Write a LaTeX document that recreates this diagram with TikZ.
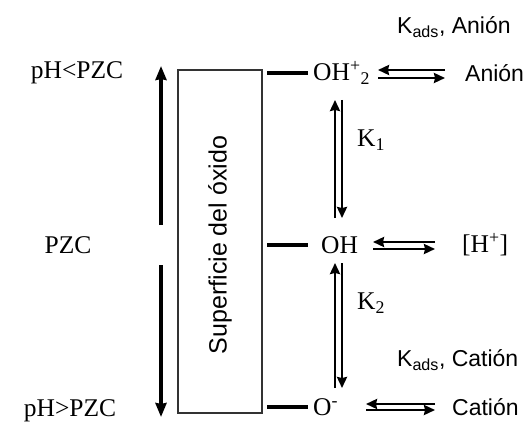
\documentclass[tikz,border=0pt]{standalone}
\usepackage{fontspec}
\setmainfont{Liberation Serif}
\setsansfont{Liberation Sans}
\usetikzlibrary{arrows.meta}
\begin{document}
\begin{tikzpicture}[x=1pt,y=-1pt,
  serif/.style={font=\fontsize{25.5}{27}\selectfont, inner sep=0pt},
  sans/.style={font=\sffamily\fontsize{23}{25}\selectfont, inner sep=0pt},
  bond/.style={line width=3.2pt},
  eqarrow/.style={line width=2.4pt, -{Stealth[length=11pt,width=10pt,inset=1pt]}},
  phax/.style={line width=3.2pt, -{Stealth[length=14pt,width=11pt,inset=1pt]}}]
\useasboundingbox (0,0) rectangle (527,422);
% left labels
\node[serif] (lt) at (77,73) {pH<PZC};
\node[serif] (lm) at (68,245) {PZC};
\node[serif] (lb) at (70,411) {pH>PZC};
% pH axis arrows
\coordinate (axm1) at (161,225);
\coordinate (axt) at (161,66);
\coordinate (axm2) at (161,265);
\coordinate (axb) at (161,417);
\draw[phax] (axm1) -- (axt);
\draw[phax] (axm2) -- (axb);
% surface box
\node[draw=black!80, line width=2.6pt, minimum width=84pt, minimum height=343pt, inner sep=0pt] (box) at (220,241.5) {};
\node[sans, rotate=90, font=\sffamily\fontsize{25}{27}\selectfont] (surf) at (220,245) {Superficie del óxido};
% species
\node[serif, anchor=west] (oh2) at (313,73) {OH\textsuperscript{+}\textsubscript{2}};
\node[serif, anchor=west] (oh) at (321,245) {OH};
\node[serif, anchor=west] (om) at (313,407) {O\textsuperscript{-}};
% bonds
\draw[bond, shorten <=4pt, shorten >=5pt] (box.east |- oh2) -- (oh2.west);
\draw[bond, shorten <=4pt, shorten >=13pt] (box.east |- oh) -- (oh.west);
\draw[bond, shorten <=4pt, shorten >=5pt] (box.east |- om) -- (om.west);
% products
\node[sans, anchor=west] (an) at (465,73) {Anión};
\node[serif, anchor=west] (hp) at (462,245) {[H\textsuperscript{+}]};
\node[sans, anchor=west] (cat) at (452,407) {Catión};
\node[sans, anchor=west] (kadsA) at (397,27) {K\textsubscript{ads}, Anión};
\node[sans, anchor=west] (kadsC) at (397,360) {K\textsubscript{ads}, Catión};
\node[serif, anchor=west] (k1) at (357,140) {K\textsubscript{1}};
\node[serif, anchor=west] (k2) at (357,303) {K\textsubscript{2}};
% horizontal equilibria
\coordinate (h1a) at (378,70); \coordinate (h1b) at (445,70);
\coordinate (h1c) at (378,78); \coordinate (h1d) at (445,78);
\draw[eqarrow] (h1b) -- (h1a);
\draw[eqarrow] (h1c) -- (h1d);
\coordinate (h2a) at (373,242); \coordinate (h2b) at (435,242);
\coordinate (h2c) at (373,249); \coordinate (h2d) at (435,249);
\draw[eqarrow] (h2b) -- (h2a);
\draw[eqarrow] (h2c) -- (h2d);
\coordinate (h3a) at (366,404); \coordinate (h3b) at (435,404);
\coordinate (h3c) at (366,410); \coordinate (h3d) at (435,410);
\draw[eqarrow] (h3b) -- (h3a);
\draw[eqarrow] (h3c) -- (h3d);
% vertical equilibria
\coordinate (v1a) at (335,218); \coordinate (v1b) at (335,100);
\coordinate (v1c) at (342,100); \coordinate (v1d) at (342,218);
\draw[eqarrow] (v1a) -- (v1b);
\draw[eqarrow] (v1c) -- (v1d);
\coordinate (v2a) at (335,388); \coordinate (v2b) at (335,263);
\coordinate (v2c) at (342,263); \coordinate (v2d) at (342,388);
\draw[eqarrow] (v2a) -- (v2b);
\draw[eqarrow] (v2c) -- (v2d);
\end{tikzpicture}
\end{document}
